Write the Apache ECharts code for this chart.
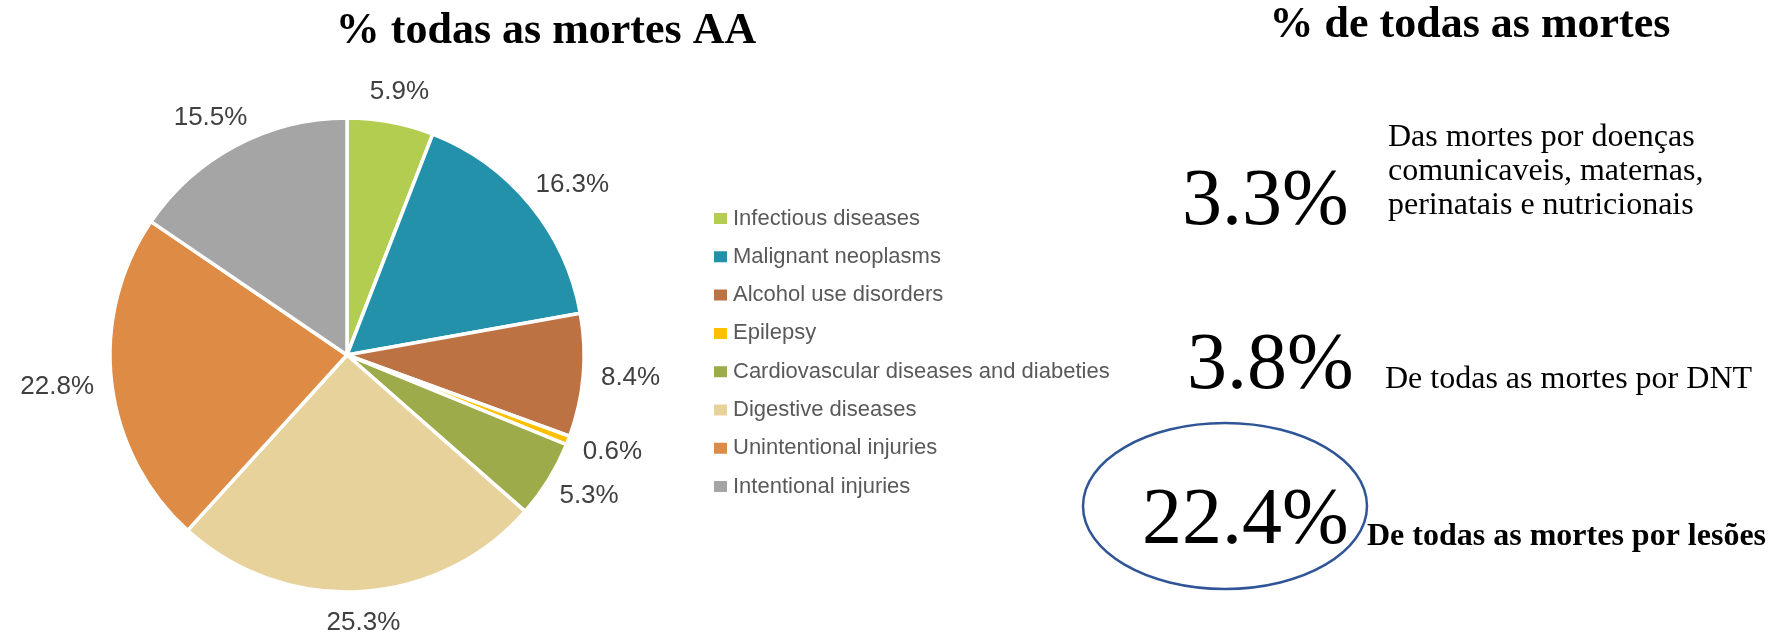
<!DOCTYPE html>
<html>
<head>
<meta charset="utf-8">
<script src="https://cdn.jsdelivr.net/npm/echarts@6/dist/echarts.min.js"></script>
<style>
  html, body { margin: 0; padding: 0; background: #fff; }
  #chart { width: 1770px; height: 635px; }
</style>
</head>
<body>
<div id="chart"></div>
<script>
// pie data (% of all alcohol-attributable deaths)
const categories = [
    'Infectious diseases',
    'Malignant neoplasms',
    'Alcohol use disorders',
    'Epilepsy',
    'Cardiovascular diseases and diabeties',
    'Digestive diseases',
    'Unintentional injuries',
    'Intentional injuries'
];
const shares = [5.9, 16.3, 8.4, 0.6, 5.3, 25.3, 22.8, 15.5];
const sliceColors = ['#b3cd50', '#2391aa', '#bd7244', '#ffc000', '#9dab4a', '#e8d29c', '#de8b45', '#a5a5a5'];

// right hand panel
const statValues = ['3.3%', '3.8%', '22.4%'];
const statNotes = [
    'Das mortes por doenças\ncomunicaveis, maternas,\nperinatais e nutricionais',
    'De todas as mortes por DNT',
    'De todas as mortes por lesões'
];

const sans = "'Liberation Sans Narrow', 'Arial Narrow', 'Liberation Sans', Arial, sans-serif";
const serif = "'Liberation Serif', 'Times New Roman', serif";

const CX = 347, CY = 355, R = 237;
const total = shares.reduce((a, b) => a + b, 0);

function midAngle(i) {
    let before = 0;
    for (let k = 0; k < i; k++) before += shares[k];
    return (before + shares[i] / 2) / total * Math.PI * 2;
}

let chart = echarts.init(document.getElementById('chart'), null, { renderer: 'canvas' });

let option = {
    animation: false,
    color: sliceColors,
    legend: {
        orient: 'vertical',
        left: 707,
        top: 201,
        itemWidth: 15,
        itemHeight: 13,
        itemGap: 13.3,
        icon: 'rect',
        textStyle: { fontFamily: sans, fontSize: 22, lineHeight: 25, color: '#595959' },
        data: categories
    },
    series: [{
        type: 'pie',
        center: [CX, CY],
        radius: R,
        startAngle: 90,
        clockwise: true,
        itemStyle: { borderColor: '#fff', borderWidth: 3.5 },
        label: {
            show: true,
            position: 'outside',
            formatter: p => p.value.toFixed(1) + '%',
            fontFamily: sans,
            fontSize: 26,
            color: '#404040',
            overflow: 'none'
        },
        labelLine: { show: false },
        labelLayout: function (p) {
            // place each label just outside the rim, along the slice's mid angle
            const a = midAngle(p.dataIndex);
            const ux = Math.sin(a), uy = -Math.cos(a);
            const w = p.labelRect.width, h = p.labelRect.height;
            const d = R + 18;
            return {
                x: CX + ux * d + ux * w / 2,
                y: CY + uy * d + uy * h / 2,
                align: 'center',
                verticalAlign: 'middle'
            };
        },
        emphasis: { disabled: true },
        data: categories.map((c, i) => ({ name: c, value: shares[i] }))
    }],
    graphic: [
        { type: 'text', x: 546, y: 32, style: { text: '% todas as mortes AA', font: 'bold 44px ' + serif, fill: '#000', align: 'center', verticalAlign: 'middle' } },
        { type: 'text', x: 1470, y: 26, style: { text: '% de todas as mortes', font: 'bold 44px ' + serif, fill: '#000', align: 'center', verticalAlign: 'middle' } },

        { type: 'text', x: 1182, y: 203, style: { text: statValues[0], font: '80px ' + serif, fill: '#000', align: 'left', verticalAlign: 'middle' } },
        { type: 'text', x: 1388, y: 172, style: { text: statNotes[0], font: '32px ' + serif, lineHeight: 34, fill: '#000', align: 'left', verticalAlign: 'middle' } },

        { type: 'text', x: 1187, y: 367, style: { text: statValues[1], font: '80px ' + serif, fill: '#000', align: 'left', verticalAlign: 'middle' } },
        { type: 'text', x: 1385, y: 380, style: { text: statNotes[1], font: '32px ' + serif, fill: '#000', align: 'left', verticalAlign: 'middle' } },

        { type: 'ellipse', shape: { cx: 1225, cy: 506, rx: 142, ry: 83 }, style: { fill: 'none', stroke: '#2f5597', lineWidth: 2.5 } },
        { type: 'text', x: 1142, y: 522, style: { text: statValues[2], font: '80px ' + serif, fill: '#000', align: 'left', verticalAlign: 'middle' } },
        { type: 'text', x: 1367, y: 537, style: { text: statNotes[2], font: 'bold 32px ' + serif, fill: '#000', align: 'left', verticalAlign: 'middle' } }
    ]
};

chart.setOption(option);
window.addEventListener('resize', function () { chart.resize(); });
</script>
</body>
</html>
